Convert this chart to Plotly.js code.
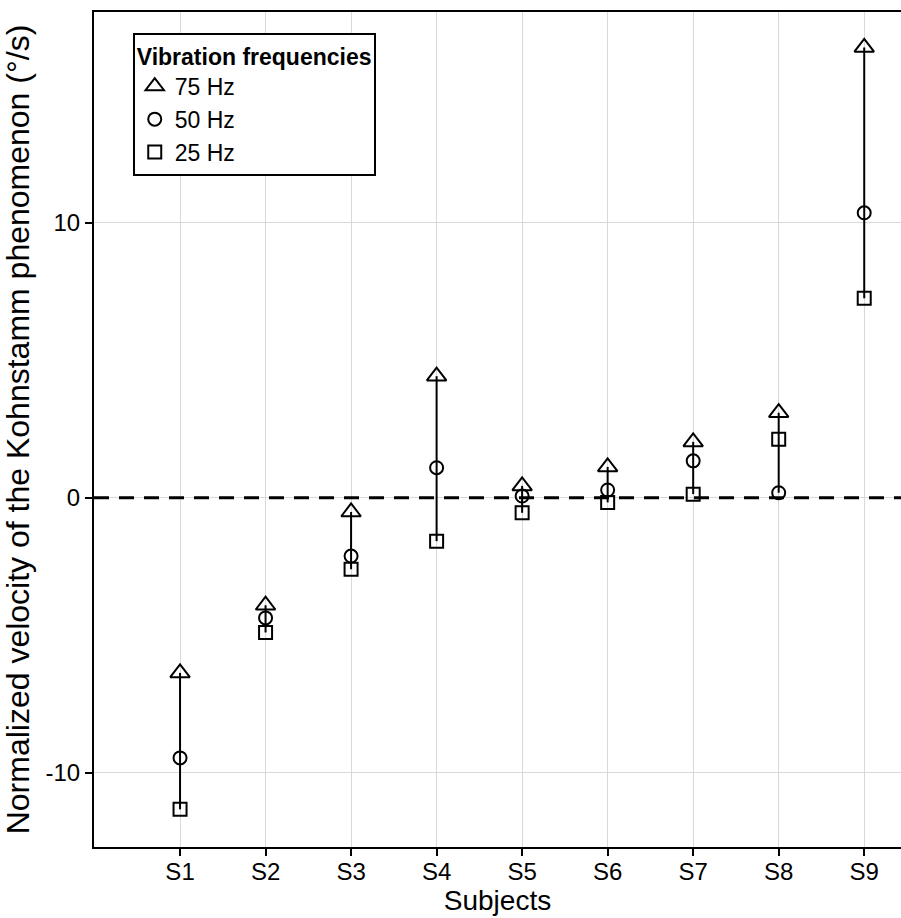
<!DOCTYPE html>
<html>
<head>
<meta charset="utf-8">
<script src="https://cdn.plot.ly/plotly-3.0.1.min.js"></script>
<style>html,body{margin:0;padding:0;background:#fff;}#chart{width:901px;height:918px;}</style>
</head>
<body>
<div id="chart"></div>
<script>
const subjects = ["S1","S2","S3","S4","S5","S6","S7","S8","S9"];
const hz75 = [-6.37, -3.91, -0.52, 4.42, 0.43, 1.12, 2.03, 3.09, 16.37];
const hz50 = [-9.46, -4.37, -2.12, 1.09, 0.06, 0.28, 1.34, 0.18, 10.36];
const hz25 = [-11.33, -4.90, -2.60, -1.58, -0.55, -0.17, 0.13, 2.13, 7.25];
const seriesNames = ["75 Hz", "50 Hz", "25 Hz"];
const yTicks = [-10, 0, 10];
const refLevel = 0;

// vertical range lines per subject (min to max of the three frequencies)
const lx = [], ly = [];
subjects.forEach((s, i) => {
  const vals = [hz75[i], hz50[i], hz25[i]];
  lx.push(s, s, null);
  ly.push(Math.min(...vals), Math.max(...vals), null);
});

const FONT = "Liberation Sans, Arial, sans-serif";

const traces = [
  {x: [0, 1], y: [refLevel, refLevel], xaxis: "x2", yaxis: "y", mode: "lines",
   line: {color: "#000", width: 3, dash: "15px,10px"}, showlegend: false, hoverinfo: "skip"},
  {x: lx, y: ly, mode: "lines", line: {color: "#000", width: 2}, showlegend: false, hoverinfo: "skip"},
  {x: subjects, y: hz75, name: seriesNames[0], mode: "markers", legendgroup: "a",
   marker: {symbol: "triangle-up-open", size: 17, color: "#000", line: {width: 2, color: "#000"}}},
  {x: subjects, y: hz50, name: seriesNames[1], mode: "markers", legendgroup: "b",
   marker: {symbol: "circle-open", size: 13, color: "#000", line: {width: 2, color: "#000"}}},
  {x: subjects, y: hz25, name: seriesNames[2], mode: "markers", legendgroup: "c",
   marker: {symbol: "square-open", size: 13, color: "#000", line: {width: 2, color: "#000"}}}
];

const layout = {
  width: 901, height: 918,
  margin: {l: 94, r: 0, t: 12, b: 71},
  paper_bgcolor: "#fff", plot_bgcolor: "#fff",
  font: {family: FONT, color: "#000", size: 23},
  showlegend: true,
  legend: {
    x: 0.048, y: 0.975, xanchor: "left", yanchor: "top",
    bordercolor: "#000", borderwidth: 2, bgcolor: "#fff",
    font: {family: FONT, size: 23, color: "#000"},
    title: {text: "<b>Vibration frequencies</b>", font: {family: FONT, size: 23, color: "#000"}},
    traceorder: "grouped", tracegroupgap: 0
  },
  xaxis: {
    type: "category", categoryorder: "array", categoryarray: subjects,
    range: [-1.006, 8.43],
    showgrid: true, gridcolor: "#d9d9d9", gridwidth: 1,
    showline: true, linecolor: "#000", linewidth: 2, mirror: true,
    ticks: "outside", ticklen: 7, tickwidth: 2, tickcolor: "#000",
    ticklabelstandoff: -5,
    tickfont: {family: FONT, size: 24, color: "#000"},
    title: {text: "Subjects", font: {family: FONT, size: 28, color: "#000"}, standoff: 6},
    zeroline: false, fixedrange: true
  },
  xaxis2: {
    overlaying: "x", range: [0, 1], visible: false, showgrid: false, zeroline: false, fixedrange: true
  },
  yaxis: {
    range: [-12.7, 17.66],
    tickmode: "array", tickvals: yTicks, ticktext: yTicks.map(String),
    showgrid: true, gridcolor: "#d9d9d9", gridwidth: 1,
    showline: true, linecolor: "#000", linewidth: 2,
    ticks: "outside", ticklen: 7, tickwidth: 2, tickcolor: "#000",
    tickfont: {family: FONT, size: 24, color: "#000"},
    title: {text: "Normalized velocity of the Kohnstamm phenomenon (°/s)", font: {family: FONT, size: 32, color: "#000"}, standoff: 6},
    zeroline: false, fixedrange: true
  }
};

Plotly.newPlot("chart", traces, layout, {displayModeBar: false, staticPlot: true});
</script>
</body>
</html>
